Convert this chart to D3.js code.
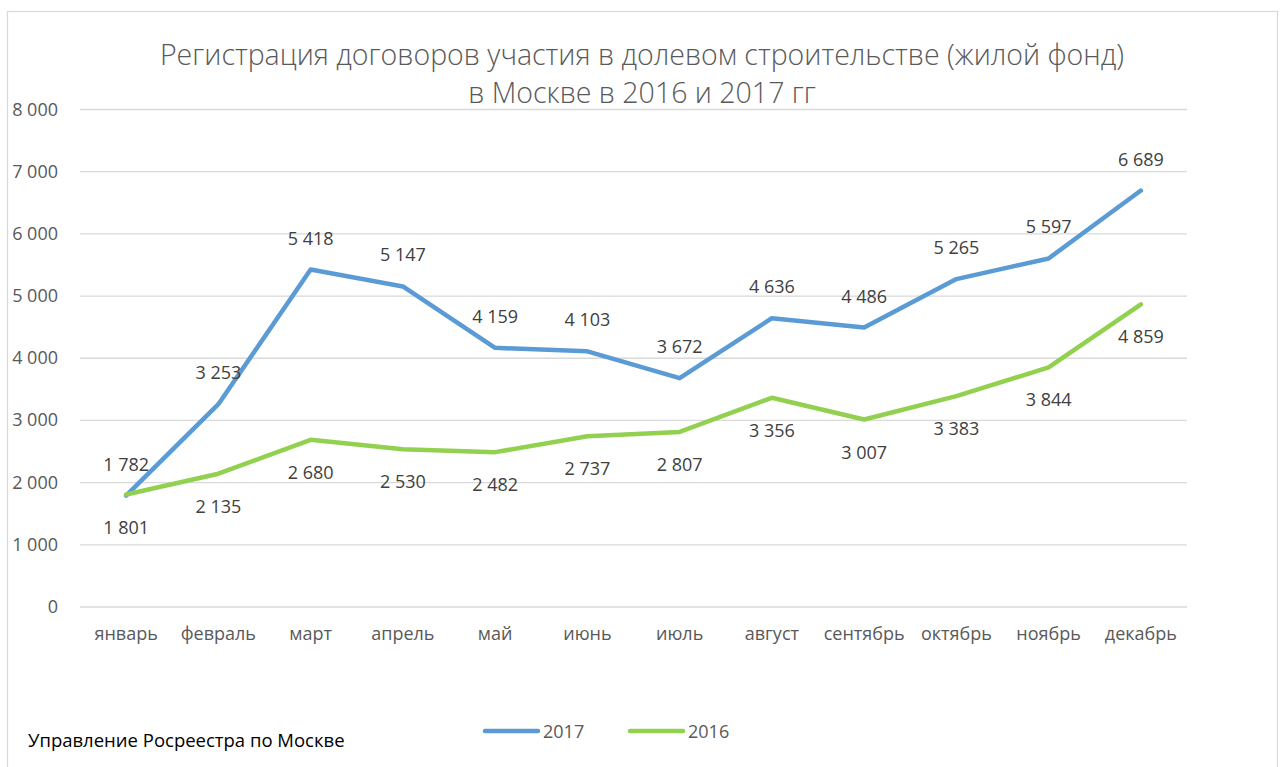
<!DOCTYPE html>
<html>
<head>
<meta charset="utf-8">
<script src="https://cdn.jsdelivr.net/npm/d3@7"></script>
<style>
  body { margin: 0; background: #fff; }
  text { font-family: "Open Sans", "Noto Sans", sans-serif; }
</style>
</head>
<body>
<div id="chart"></div>
<script>
// --- data ---
const months = ["январь", "февраль", "март", "апрель", "май", "июнь", "июль", "август", "сентябрь", "октябрь", "ноябрь", "декабрь"];
const values2017 = [1782, 3253, 5418, 5147, 4159, 4103, 3672, 4636, 4486, 5265, 5597, 6689];
const values2016 = [1801, 2135, 2680, 2530, 2482, 2737, 2807, 3356, 3007, 3383, 3844, 4859];
const yTicks = [0, 1000, 2000, 3000, 4000, 5000, 6000, 7000, 8000];
const titleLines = ["Регистрация договоров участия в долевом строительстве (жилой фонд)", "в Москве в 2016 и 2017 гг"];
const footer = "Управление Росреестра по Москве";

const W = 1282, H = 767;
const plot = {left: 80, right: 1187, top: 109, bottom: 606.5};

const ru = d3.formatLocale({decimal: ",", thousands: " ", grouping: [3], currency: ["", " ₽"]});
const fmt = ru.format(",d");

const svg = d3.select("#chart").append("svg")
    .attr("width", W).attr("height", H);

svg.append("rect").attr("width", W).attr("height", H).attr("fill", "#fff");
// рамка
svg.append("rect")
    .attr("x", 7.5).attr("y", 11.5).attr("width", 1270).attr("height", 780)
    .attr("fill", "none").attr("stroke", "#d9d9d9").attr("stroke-width", 1.2);

// заголовок
svg.append("g").selectAll("text").data(titleLines).enter().append("text")
    .attr("x", 642).attr("y", (d, i) => 65 + i * 38)
    .attr("text-anchor", "middle")
    .attr("font-size", 28.5).attr("font-weight", 300)
    .attr("fill", "#595959")
    .text(d => d);

const x = d3.scaleBand().domain(months).range([plot.left, plot.right]);
const y = d3.scaleLinear().domain([0, 8000]).range([plot.bottom, plot.top]);
const cx = m => x(m) + x.bandwidth() / 2;

// сетка
svg.append("g")
    .attr("transform", `translate(${plot.left},0)`)
    .call(d3.axisLeft(y).tickValues(yTicks).tickSize(-(plot.right - plot.left)).tickFormat(""))
    .call(g => g.select(".domain").remove())
    .call(g => g.selectAll("line").attr("stroke", "#d9d9d9").attr("stroke-width", 1.3));

// ось Y подписи
svg.append("g").selectAll("text").data(yTicks).enter().append("text")
    .attr("x", 58).attr("y", d => y(d) + 6.5)
    .attr("text-anchor", "end")
    .attr("font-size", 18).attr("fill", "#595959")
    .text(d => fmt(d));

// ось X подписи
svg.append("g").selectAll("text").data(months).enter().append("text")
    .attr("x", d => cx(d)).attr("y", 640)
    .attr("text-anchor", "middle")
    .attr("font-size", 18).attr("fill", "#595959")
    .text(d => d);

// линии
const series = [
    {name: "2017", values: values2017, color: "#5b9bd5", offset: -25},
    {name: "2016", values: values2016, color: "#92d050", offset: 39}
];

const line = d3.line().x((d, i) => cx(months[i])).y(d => y(d));

series.forEach(s => {
    svg.append("path")
        .datum(s.values)
        .attr("d", line)
        .attr("fill", "none")
        .attr("stroke", s.color)
        .attr("stroke-width", 4.5)
        .attr("stroke-linejoin", "round")
        .attr("stroke-linecap", "round");
});

// подписи данных
series.forEach(s => {
    svg.append("g").selectAll("text").data(s.values).enter().append("text")
        .attr("x", (d, i) => cx(months[i]))
        .attr("y", d => y(d) + s.offset)
        .attr("text-anchor", "middle")
        .attr("font-size", 18).attr("fill", "#404040")
        .text(d => fmt(d));
});

// легенда
const legend = svg.append("g").selectAll("g").data(series).enter().append("g")
    .attr("transform", (d, i) => `translate(${485 + i * 145},731)`);
legend.append("line")
    .attr("x1", 0).attr("x2", 53)
    .attr("stroke", d => d.color).attr("stroke-width", 4.5).attr("stroke-linecap", "round");
legend.append("text")
    .attr("x", 58).attr("y", 6.5)
    .attr("font-size", 18).attr("fill", "#595959")
    .text(d => d.name);

// источник
svg.append("text")
    .attr("x", 28).attr("y", 747)
    .attr("font-size", 18.5).attr("fill", "#000")
    .text(footer);
</script>
</body>
</html>
